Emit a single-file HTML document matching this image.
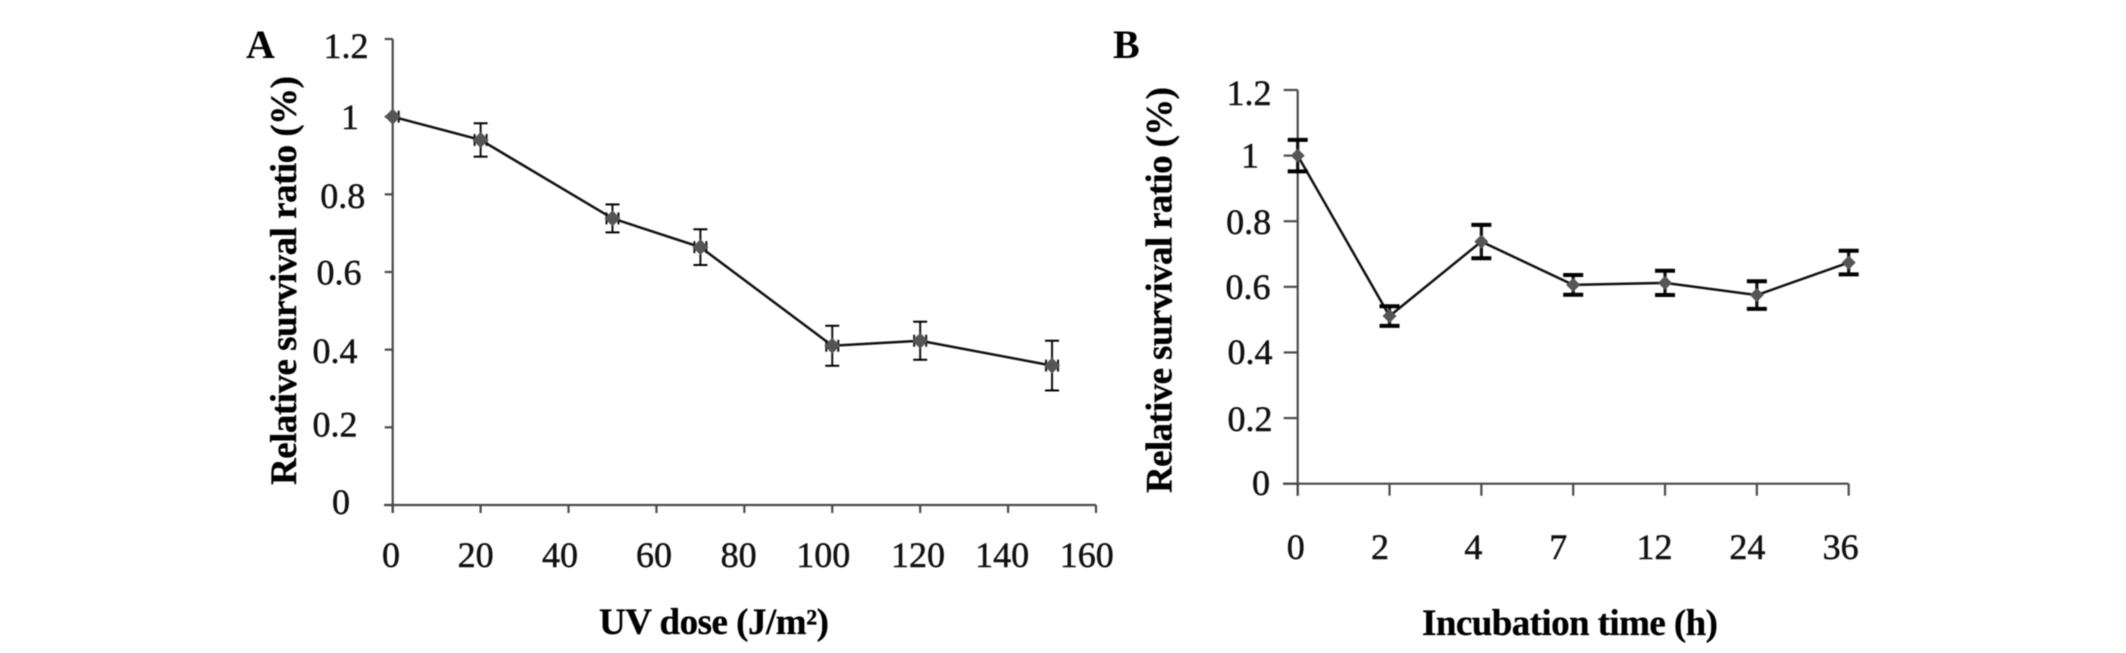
<!DOCTYPE html>
<html lang="en">
<head>
<meta charset="utf-8">
<title>Relative survival ratio charts</title>
<style>
html,body{margin:0;padding:0;background:#fff;}
body{width:2126px;height:653px;overflow:hidden;}
svg{display:block;filter:blur(0.4px);}
text{font-family:"Liberation Serif",serif;fill:#111;}
.tick{font-size:36px;stroke:#111;stroke-width:0.5px;}
.title{font-size:37px;font-weight:bold;fill:#000;stroke:#000;stroke-width:0.3px;}
.panel{font-size:40px;font-weight:bold;fill:#000;}
</style>
</head>
<body>
<svg id="figure" xmlns="http://www.w3.org/2000/svg" width="2126" height="653" viewBox="0 0 2126 653">
  <rect x="0" y="0" width="2126" height="653" fill="#fff"/>
  <g id="chart-a">
    <text class="panel" x="246" y="58">A</text>
    <text class="title" transform="translate(296,280.5) rotate(-90)" text-anchor="middle" textLength="409">Relative survival ratio (%)</text>
    <text class="title" x="599" y="634" textLength="230">UV dose (J/m²)</text>
  </g>
  <g id="chart-b">
    <text class="panel" x="1113" y="58">B</text>
    <text class="title" transform="translate(1171.5,290) rotate(-90)" text-anchor="middle" textLength="406">Relative survival ratio (%)</text>
    <text class="title" x="1422" y="635" textLength="296">Incubation time (h)</text>
  </g>
</svg>
<script>
// Chart A data
const dosesA = [0, 20, 50, 70, 100, 120, 150];
const survivalA = [1, 0.94, 0.738, 0.664, 0.41, 0.423, 0.359];
const errorA = [0, 0.043, 0.036, 0.046, 0.0515, 0.049, 0.064];
const xTicksA = [0, 20, 40, 60, 80, 100, 120, 140, 160];
const yTicksA = [0, 0.2, 0.4, 0.6, 0.8, 1, 1.2];

// Chart B data
const timesB = ['0', '2', '4', '7', '12', '24', '36'];
const survivalB = [1, 0.511, 0.738, 0.606, 0.612, 0.575, 0.674];
const errorB = [0.048, 0.03, 0.051, 0.03, 0.037, 0.042, 0.036];
const yTicksB = [0, 0.2, 0.4, 0.6, 0.8, 1, 1.2];

const SVG_NS = 'http://www.w3.org/2000/svg';
const make = function (tag, parent, attrs) {
  const node = document.createElementNS(SVG_NS, tag);
  Object.keys(attrs).forEach(function (k) { node.setAttribute(k, attrs[k]); });
  parent.appendChild(node);
  return node;
};

// Axis functions
const xA = function (v) { return 392.7 + (v / 160) * 703.3; };
const yA = function (v) { return 505 - (v / 1.2) * 466; };
const xB = function (i) { return 1297.7 + i * 91.83; };
const yB = function (v) { return 483.7 - (v / 1.2) * 393.7; };

// Hand-placement quirks of the original tick labels (layout only)
const yLabelPlaceA = {'0': [341, 9], '0.2': [335, 9.2], '0.4': [335, 13.3], '0.6': [339, 12.4], '0.8': [342.7, 13.5], '1': [350, 12.3], '1.2': [346, 19]};
const xLabelShiftA = {'0': -1.7, '20': -5, '40': -8.5, '60': -2.5, '80': -5.7, '100': -9, '120': -2.2, '140': -6, '160': -9.3};
const yLabelPlaceB = {'0': [1261, 11.3], '0.2': [1250, 13], '0.4': [1250, 11.5], '0.6': [1248, 12], '0.8': [1248.6, 12.7], '1': [1250, 12], '1.2': [1249, 15]};
const xLabelShiftB = {'0': -2, '2': -9.5, '4': -8, '7': -15, '12': -10.5, '24': -9.5, '36': -8};

const AXIS = '#4a4a4a';
const INK = '#111';
const MARK = '#555';

function drawAxes(g, x0, x1, y0, y1, xLeft, xLen) {
  const yAxis = make('line', g, {x1: x0, x2: x0, y1: y1, y2: y0 + xLen, stroke: AXIS, 'stroke-width': 2.2});
  
  
  const xAxis = make('line', g, {x1: xLeft, x2: x1, y1: y0, y2: y0, stroke: AXIS, 'stroke-width': 2.2});
  
  
}

function drawYTick(g, xAxisPos, len, y, label, cx, dy) {
  const t = make('line', g, {x1: xAxisPos - len, x2: xAxisPos, y1: y, y2: y, stroke: AXIS, 'stroke-width': 2.2});
  
  
  const s = make('text', g, {x: cx, y: y + dy, 'text-anchor': 'middle', class: 'tick'});
  
  
  s.textContent = label;
}

function drawXTick(g, x, y0, len, label, dx, baseline) {
  const t = make('line', g, {x1: x, x2: x, y1: y0, y2: y0 + len, stroke: AXIS, 'stroke-width': 2.2});
  
  
  const s = make('text', g, {x: x + dx, y: baseline, 'text-anchor': 'middle', class: 'tick'});
  
  
  s.textContent = label;
}

function drawLine(g, pts) {
  const p = make('polyline', g, {points: pts.map(function (q) { return q[0] + ',' + q[1]; }).join(' '), fill: 'none', stroke: INK, 'stroke-width': 2.5});
  
  
}

function drawError(g, x, yHi, yLo, capHalf, stemW, capW) {
  const stem = make('line', g, {x1: x, x2: x, y1: yHi, y2: yLo, stroke: INK, 'stroke-width': stemW});
  
  
  if (yHi === yLo) { return; }
  const top = make('line', g, {x1: x - capHalf, x2: x + capHalf, y1: yHi, y2: yHi, stroke: '#000', 'stroke-width': capW});
  
  
  const bottom = make('line', g, {x1: x - capHalf, x2: x + capHalf, y1: yLo, y2: yLo, stroke: '#000', 'stroke-width': capW});
  
  
}

function drawMarker(g, x, y, r) {
  const m = make('polygon', g, {points: [(x - r) + ',' + y, x + ',' + (y - r), (x + r) + ',' + y, x + ',' + (y + r)].join(' '), fill: MARK});
  
  
}

function drawStub(g, x, y) {
  const st = make('line', g, {x1: x, x2: x, y1: y - 6, y2: y + 6, stroke: INK, 'stroke-width': 2});
  
  
}

// Chart A
(function () {
  const g = document.getElementById('chart-a');
  drawAxes(g, xA(0), xA(160), yA(0), yA(1.2), 384, 8);
  yTicksA.forEach(function (v) {
    const place = yLabelPlaceA[String(v)] || [342, 12];
    drawYTick(g, xA(0), 8, yA(v), String(v), place[0], place[1]);
  });
  xTicksA.forEach(function (v) {
    const shift = xLabelShiftA[String(v)];
    drawXTick(g, xA(v), yA(0), 8, String(v), shift === undefined ? -5 : shift, 567);
  });
  const pts = dosesA.map(function (d, i) { return [xA(d), yA(survivalA[i])]; });
  drawLine(g, pts);
  pts.forEach(function (p, i) {
    drawError(g, p[0], yA(survivalA[i] + errorA[i]), yA(survivalA[i] - errorA[i]), 7, 2, 2);
    if (i > 0) { drawStub(g, p[0] - 6, p[1]); }
    drawStub(g, p[0] + 6, p[1]);
    drawMarker(g, p[0], p[1], 8);
  });
})();

// Chart B
(function () {
  const g = document.getElementById('chart-b');
  drawAxes(g, xB(0), xB(timesB.length - 1), yB(0), yB(1.2), 1283, 12);
  yTicksB.forEach(function (v) {
    const place = yLabelPlaceB[String(v)] || [1249, 12];
    drawYTick(g, xB(0), 14, yB(v), String(v), place[0], place[1]);
  });
  timesB.forEach(function (label, i) {
    const shift = xLabelShiftB[label];
    drawXTick(g, xB(i), yB(0), 12, label, shift === undefined ? -9 : shift, 559);
  });
  const pts = survivalB.map(function (v, i) { return [xB(i), yB(v)]; });
  drawLine(g, pts);
  pts.forEach(function (p, i) {
    drawError(g, p[0], yB(survivalB[i] + errorB[i]), yB(survivalB[i] - errorB[i]), 10, 3.2, 4);
    drawMarker(g, p[0], p[1], 7);
  });
})();
</script>
</body>
</html>
